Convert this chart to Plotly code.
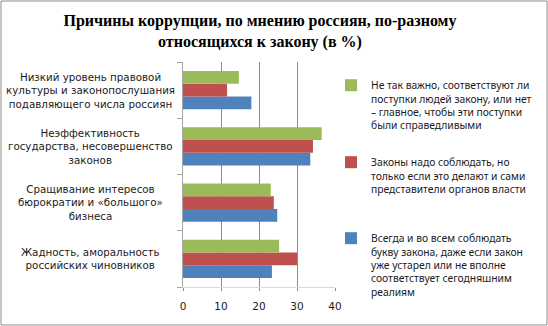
import plotly.graph_objects as go

# Data (categories listed bottom-to-top as drawn on the axis)
categories = [
    "Жадность, аморальность<br>российских чиновников",
    "Сращивание интересов<br>бюрократии и «большого»<br>бизнеса",
    "Неэффективность<br>государства, несовершенство<br>законов",
    "Низкий уровень правовой<br>культуры и законопослушания<br>подавляющего числа россиян",
]
series_names = [
    "Всегда и во всем соблюдать<br>букву закона, даже если закон<br>уже устарел или не вполне<br>соответствует сегодняшним<br>реалиям",
    "Законы надо соблюдать, но<br>только если это делают и сами<br>представители органов власти",
    "Не так важно, соответствуют ли<br>поступки людей закону, или нет<br>– главное, чтобы эти поступки<br>были справедливыми",
]
blue_values = [23.4, 24.8, 33.5, 18.0]
red_values = [30.0, 23.9, 34.2, 11.6]
green_values = [25.3, 23.1, 36.5, 14.7]
x_ticks = [0, 10, 20, 30, 40]

colors = ["#4F81BD", "#C0504D", "#9BBB59"]
values = [blue_values, red_values, green_values]
legends = ["legend3", "legend2", "legend"]

W, H = 548, 326
ML, MR, MT, MB = 183, 213, 62, 39
PW, PH = W - ML - MR, H - MT - MB

def px_x(px):
    return (px - ML) / PW

def px_y(py):
    return 1 - (py - MT) / PH

fig = go.Figure()
for name, vals, col, lg in zip(series_names, values, colors, legends):
    fig.add_trace(go.Bar(
        y=categories, x=vals, orientation="h", name=name,
        marker=dict(color=col, line=dict(width=0)),
        legend=lg,
    ))

label_font = dict(family="DejaVu Sans, Verdana, sans-serif", size=10.3, color="#1a1a1a")
legend_font = dict(family="Noto Sans, DejaVu Sans, sans-serif", size=10.3, color="#1a1a1a")

annotations = []
for c in categories:
    annotations.append(dict(
        x=px_x(90), xref="paper", y=c, yref="y", text=c, showarrow=False,
        xanchor="center", yanchor="middle", align="center", font=label_font,
    ))

legend_common = dict(
    xref="container", yref="container", xanchor="left", yanchor="top",
    bgcolor="rgba(0,0,0,0)", borderwidth=0, font=legend_font,
    valign="top", itemwidth=30, tracegroupgap=0,
)

LX = 331
fig.update_layout(
    width=W, height=H,
    margin=dict(l=ML, r=MR, t=MT, b=MB, autoexpand=False),
    paper_bgcolor="white", plot_bgcolor="white",
    barmode="group", bargap=0.32, bargroupgap=0,
    title=dict(
        text="<b>Причины коррупции, по мнению россиян, по-разному<br>относящихся к закону (в %)</b>",
        x=260 / W, xanchor="center", xref="container",
        y=1 - 26 / H, yanchor="middle", yref="container",
        font=dict(family="Liberation Serif, Times New Roman, serif", size=16, color="#000000"),
    ),
    xaxis=dict(
        range=[0, 40], tickvals=x_ticks, ticktext=[str(v) for v in x_ticks],
        showgrid=True, gridcolor="#8c8c8c", gridwidth=1,
        zeroline=False, showline=True, linecolor="#d9d9d9", linewidth=1,
        ticks="outside", ticklen=3, tickcolor="#8c8c8c", ticklabelstandoff=6,
        tickfont=dict(family="DejaVu Sans, Verdana, sans-serif", size=10.5, color="#1a1a1a"),
        fixedrange=True,
    ),
    yaxis=dict(
        showticklabels=False, showgrid=False, zeroline=False,
        showline=True, linecolor="#a6a6a6", linewidth=1,
        ticks="outside", tickson="boundaries", ticklen=5, tickcolor="#a6a6a6",
        fixedrange=True,
    ),
    annotations=annotations,
    legend=dict(x=LX / W, y=1 - 72 / H, **legend_common),
    legend2=dict(x=LX / W, y=1 - 149 / H, **legend_common),
    legend3=dict(x=LX / W, y=1 - 225 / H, **legend_common),
    shapes=[dict(
        type="rect", xref="paper", yref="paper",
        x0=px_x(1), x1=px_x(W - 1), y0=px_y(H - 1), y1=px_y(1),
        line=dict(color="#8c8c8c", width=1), fillcolor="rgba(0,0,0,0)", layer="below",
    )],
    showlegend=True,
)

fig.write_html("out.html")
